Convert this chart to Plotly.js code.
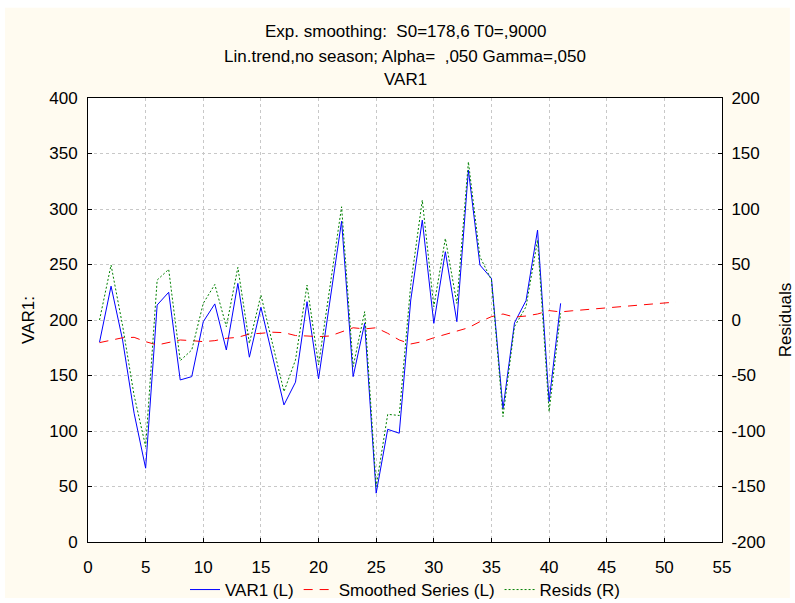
<!DOCTYPE html>
<html>
<head>
<meta charset="utf-8">
<script src="https://cdn.plot.ly/plotly-3.0.1.min.js"></script>
<style>html,body{margin:0;padding:0;background:#ffffff;}#chart{width:795px;height:603px;}</style>
</head>
<body>
<div id="chart"></div>
<script>
// ---- data ----
const caseNo = [1,2,3,4,5,6,7,8,9,10,11,12,13,14,15,16,17,18,19,20,21,22,23,24,25,26,27,28,29,30,31,32,33,34,35,36,37,38,39,40,41];
const var1 = [180,230.5,182,116,66.5,213.5,225,146,149,198.5,214.5,173,233,166.5,211.5,167.5,123.5,144,216.5,147,218,289,149,197,44,101.5,98,218,290,197,261.5,198.5,335,249.5,237.5,120,197.5,217.5,281,126.5,215];
const smoothX = [1,2,3,4,5,6,7,8,9,10,11,12,13,14,15,16,17,18,19,20,21,22,23,24,25,26,27,28,29,30,31,32,33,34,35,36,37,38,39,40,41,42,43,44,45,46,47,48,49,50,51];
const smoothed = [179.6,182,184,184.4,180.5,177.5,179.6,182,181.4,180.5,181.4,183.5,184.4,187.4,188,189,188.6,186,185.6,185,185.6,189.5,193,192,193,188,182,178.4,180.5,184,187,190,193,198.5,203,205.4,202.6,203.6,205.4,208.5,207.3,208.3,209.2,210.1,211,211.8,212.6,213.5,214.4,215.3,216.2];
const resids = [0,49.5,-5,-68,-114,36,45.6,-36.6,-27,15,32,-6,47.4,-21,22.5,-20,-64.5,-36,31.5,-40.5,30,102,-42,7.5,-150,-85,-86,32,108,12,73.5,15,142.5,57,36,-87,-6,12,72,-82.5,6];
const titleLines = ["Exp. smoothing:  S0=178,6 T0=,9000", "Lin.trend,no season; Alpha=  ,050 Gamma=,050", "VAR1"];
const leftTicks = [0,50,100,150,200,250,300,350,400];
const rightTicks = [-200,-150,-100,-50,0,50,100,150,200];
const xTicks = [0,5,10,15,20,25,30,35,40,45,50,55];

const FONT = "Liberation Sans, Arial, sans-serif";
const FS = 17;
const cream = "#fffbf0";

const traces = [
  {x: caseNo, y: var1, type: "scatter", mode: "lines", name: "VAR1 (L)",
   line: {color: "#0000ff", width: 1}, yaxis: "y"},
  {x: smoothX, y: smoothed, type: "scatter", mode: "lines", name: "Smoothed Series (L)",
   line: {color: "#ff0000", width: 1, dash: "9px,7px"}, yaxis: "y"},
  {x: caseNo, y: resids, type: "scatter", mode: "lines", name: "Resids (R)",
   line: {color: "#008000", width: 1, dash: "2px,2px"}, yaxis: "y2"}
];

const layout = {
  width: 795, height: 603,
  margin: {l: 88, r: 73, t: 98, b: 61, autoexpand: false},
  paper_bgcolor: "#ffffff",
  plot_bgcolor: "#ffffff",
  font: {family: FONT, size: FS, color: "#000000"},
  showlegend: true,
  legend: {orientation: "h", x: 0.5, xanchor: "center", y: -(590 - 542) / 444, yanchor: "middle",
           bgcolor: "rgba(0,0,0,0)", font: {family: FONT, size: FS}, itemwidth: 30, tracegroupgap: 0},
  xaxis: {range: [0, 55], tickvals: xTicks, ticktext: xTicks.map(String),
          showgrid: true, gridcolor: "#c8c8c8", griddash: "dot", gridwidth: 1,
          zeroline: false, showline: true, linecolor: "#000000", linewidth: 1, mirror: true,
          ticks: "inside", ticklen: 4, tickcolor: "#000000", ticklabelstandoff: 10,
          tickfont: {family: FONT, size: FS}},
  yaxis: {range: [0, 400], tickvals: leftTicks, ticktext: leftTicks.map(String),
          showgrid: true, gridcolor: "#c8c8c8", griddash: "dot", gridwidth: 1,
          zeroline: false, showline: true, linecolor: "#000000", linewidth: 1, mirror: true,
          ticks: "inside", ticklen: 4, tickcolor: "#000000", ticklabelstandoff: 6,
          tickfont: {family: FONT, size: FS},
          title: {text: "VAR1:", font: {family: FONT, size: FS}, standoff: 10}},
  yaxis2: {range: [-200, 200], tickvals: rightTicks, ticktext: rightTicks.map(String),
           overlaying: "y", side: "right", showgrid: false, zeroline: false,
           showline: true, linecolor: "#000000", linewidth: 1,
           ticks: "inside", ticklen: 4, tickcolor: "#000000", ticklabelstandoff: 5,
           tickfont: {family: FONT, size: FS},
           title: {text: "Residuals", font: {family: FONT, size: FS}, standoff: 14}},
  shapes: [
    {type: "rect", xref: "paper", yref: "paper", x0: -0.131, x1: 1.107, y0: -0.126, y1: 1.203,
     fillcolor: cream, line: {width: 0}, layer: "below"},
    {type: "rect", xref: "x domain", yref: "y domain", x0: 0, x1: 1, y0: 0, y1: 1,
     fillcolor: "#ffffff", line: {width: 0}, layer: "below"}
  ],
  annotations: [
    {text: titleLines[0], xref: "paper", yref: "paper", x: 0.5, y: (542 - 31) / 444, xanchor: "center", yanchor: "middle", showarrow: false, font: {family: FONT, size: FS}},
    {text: titleLines[1], xref: "paper", yref: "paper", x: 0.5, y: (542 - 56) / 444, xanchor: "center", yanchor: "middle", showarrow: false, font: {family: FONT, size: FS}},
    {text: titleLines[2], xref: "paper", yref: "paper", x: 0.5, y: (542 - 79.5) / 444, xanchor: "center", yanchor: "middle", showarrow: false, font: {family: FONT, size: FS}}
  ]
};

Plotly.newPlot("chart", traces, layout, {displayModeBar: false, staticPlot: true});
</script>
</body>
</html>
